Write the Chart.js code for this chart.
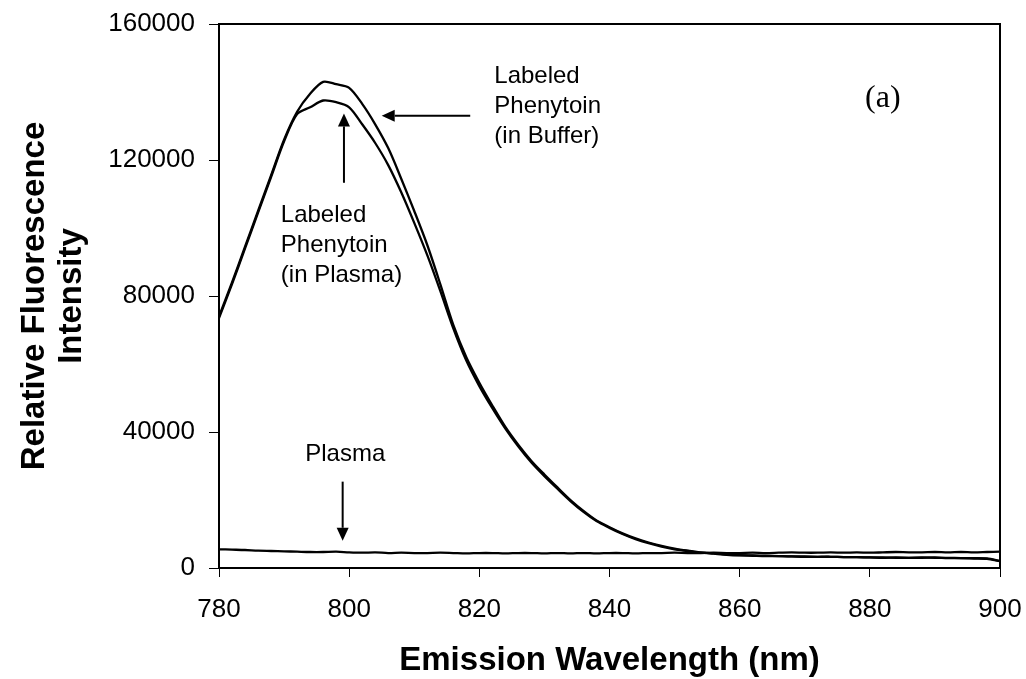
<!DOCTYPE html>
<html>
<head>
<meta charset="utf-8">
<script src="https://cdn.jsdelivr.net/npm/chart.js@4.4.1/dist/chart.umd.min.js"></script>
<style>
html,body{margin:0;padding:0;background:#fff}
#wrap{width:1026px;height:679px}
</style>
</head>
<body>
<div id="wrap"><canvas id="specChart" width="1026" height="679"></canvas></div>
<script>
// emission wavelength (nm)
const wavelengths=[780,782,784,786,788,790,792,794,796,798,800,802,804,806,808,810,812,814,816,818,820,822,824,826,828,830,832,834,836,838,840,842,844,846,848,850,852,854,856,858,860,862,864,866,868,870,872,874,876,878,880,882,884,886,888,890,892,894,896,898,900]

// labeled phenytoin in buffer
const inBuffer=[74000,84000,94500,105000,115500,126000,134200,139500,143000,142300,141200,136500,130500,123500,114500,105000,95000,83500,71500,62000,54500,47800,41500,36200,31500,27500,23700,20000,16800,14000,12000,10200,8700,7500,6500,5700,5100,4600,4300,4000,3800,3700,3600,3500,3400,3400,3300,3300,3200,3200,3100,3000,3100,3000,3000,3100,2900,2900,2800,2700,2000]

// labeled phenytoin in plasma
const inPlasma=[73500,83500,94000,104500,115000,125500,133500,135500,137500,137000,135500,130500,125000,118500,110500,101500,92000,81500,70500,61000,53500,47000,41000,35700,31000,27000,23300,19700,16500,13800,11800,10000,8500,7300,6300,5500,5000,4500,4200,3900,3700,3600,3500,3500,3400,3300,3300,3300,3200,3200,3100,3100,3000,3000,3100,3000,3000,2900,2900,2800,2100]

// plasma blank
const plasmaOnly=[5500,5400,5300,5100,5000,4900,4800,4700,4700,4800,4600,4500,4600,4400,4500,4400,4400,4500,4400,4300,4400,4400,4300,4400,4400,4300,4400,4300,4400,4300,4400,4400,4300,4400,4400,4500,4400,4400,4500,4400,4400,4500,4400,4500,4600,4500,4500,4600,4500,4600,4500,4600,4700,4600,4600,4700,4600,4700,4600,4700,4800]

const xTicks=[780,800,820,840,860,880,900]
const yTicks=[0,40000,80000,120000,160000]

const bufferLabel=["Labeled","Phenytoin","(in Buffer)"]
const plasmaLabel=["Labeled","Phenytoin","(in Plasma)"]
const blankLabel="Plasma"
const panelLabel="(a)"

function pts(ys){
return wavelengths.map((w,i)=>({x:w,y:ys[i]}))
}

function arrow(ctx,x1,y1,x2,y2){
const a=Math.atan2(y2-y1,x2-x1)
const hl=13,hw=6
ctx.beginPath()
ctx.moveTo(x1,y1)
ctx.lineTo(x2-hl*Math.cos(a),y2-hl*Math.sin(a))
ctx.lineWidth=2
ctx.stroke()
ctx.beginPath()
ctx.moveTo(x2,y2)
ctx.lineTo(x2-hl*Math.cos(a)+hw*Math.sin(a),y2-hl*Math.sin(a)-hw*Math.cos(a))
ctx.lineTo(x2-hl*Math.cos(a)-hw*Math.sin(a),y2-hl*Math.sin(a)+hw*Math.cos(a))
ctx.closePath()
ctx.fill()
}

const notes={
id:"notes",
afterDatasetsDraw(chart){
const {ctx,chartArea:ca,scales:{x,y}}=chart
ctx.save()
ctx.strokeStyle="#000"
ctx.fillStyle="#000"
// frame top + right
ctx.lineWidth=2
ctx.beginPath()
ctx.moveTo(ca.left,ca.top)
ctx.lineTo(ca.right,ca.top)
ctx.lineTo(ca.right,ca.bottom)
ctx.stroke()

ctx.font="24px 'Liberation Sans', Arial, sans-serif"
ctx.textBaseline="middle"
ctx.textAlign="left"
bufferLabel.forEach((t,i)=>ctx.fillText(t,x.getPixelForValue(822.3),y.getPixelForValue(144700)+i*30))
plasmaLabel.forEach((t,i)=>ctx.fillText(t,x.getPixelForValue(789.5),y.getPixelForValue(103800)+i*30))
ctx.textAlign="center"
ctx.fillText(blankLabel,x.getPixelForValue(799.4),y.getPixelForValue(33500))

ctx.font="32px 'Liberation Serif', 'Times New Roman', serif"
ctx.fillText(panelLabel,x.getPixelForValue(882),y.getPixelForValue(138200))

arrow(ctx,x.getPixelForValue(818.6),y.getPixelForValue(133000),x.getPixelForValue(805),y.getPixelForValue(133000))
arrow(ctx,x.getPixelForValue(799.2),y.getPixelForValue(113300),x.getPixelForValue(799.2),y.getPixelForValue(133700))
arrow(ctx,x.getPixelForValue(799),y.getPixelForValue(25400),x.getPixelForValue(799),y.getPixelForValue(8000))
ctx.restore()
}
}

const line=(ys)=>({
data:pts(ys),
borderColor:"#000",
borderWidth:2.3,
pointRadius:0,
fill:false,
tension:0.3
})

const chart=new Chart(document.getElementById("specChart"),{
type:"line",
data:{
datasets:[line(inBuffer),line(inPlasma),line(plasmaOnly)]
},
options:{
responsive:false,
animation:false,
events:[],
layout:{padding:{top:24,right:26,left:0,bottom:0}},
plugins:{legend:{display:false},tooltip:{enabled:false}},
scales:{
x:{
type:"linear",
min:780,max:900,
afterBuildTicks(s){s.ticks=xTicks.map(v=>({value:v}))},
afterFit(s){s.height=111;s.paddingLeft=0;s.paddingRight=0},
border:{display:true,color:"#000",width:2},
grid:{drawOnChartArea:false,drawTicks:true,tickLength:9,color:"#000"},
ticks:{color:"#000",padding:17,maxRotation:0,autoSkip:false,font:{family:"'Liberation Sans', Arial, sans-serif",size:26}},
title:{display:true,text:"Emission Wavelength (nm)",color:"#000",padding:{top:0,bottom:0},font:{family:"'Liberation Sans', Arial, sans-serif",size:33,weight:"bold",lineHeight:1.1}}
},
y:{
min:0,max:160000,
afterBuildTicks(s){s.ticks=yTicks.map(v=>({value:v}))},
afterFit(s){s.width=219;s.paddingTop=0;s.paddingBottom=0},
border:{display:true,color:"#000",width:2},
grid:{drawOnChartArea:false,drawTicks:true,tickLength:10,color:"#000"},
ticks:{color:"#000",padding:14,autoSkip:false,font:{family:"'Liberation Sans', Arial, sans-serif",size:26},callback:v=>String(v)},
title:{display:true,text:["Relative Fluorescence","Intensity"],color:"#000",padding:{top:17,bottom:0},font:{family:"'Liberation Sans', Arial, sans-serif",size:33,weight:"bold",lineHeight:1.1}}
}
}
},
plugins:[notes]
})
</script>
</body>
</html>
